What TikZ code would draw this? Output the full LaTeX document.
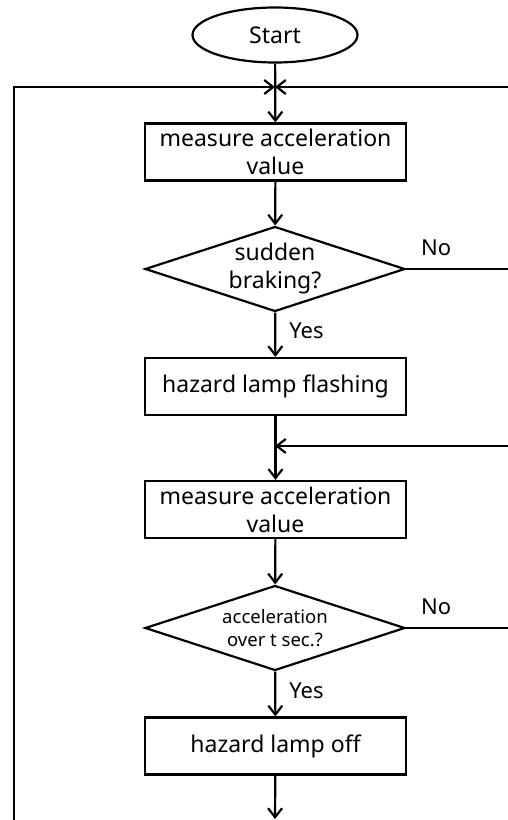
\documentclass[tikz,border=0pt]{standalone}
\usepackage{fontspec}
\setmainfont{Noto Sans}
\usetikzlibrary{shapes.geometric,arrows.meta}
\begin{document}
\begin{tikzpicture}[x=1pt,y=-1pt,
  line width=2.2pt,
  every node/.style={font=\fontsize{23}{28}\selectfont, inner sep=0pt},
  procbox/.style={draw, rectangle, minimum width=261pt, minimum height=57pt, align=center},
  decbox/.style={draw, diamond, minimum width=260pt, minimum height=85pt},
  dectext/.style={align=center},
  termbox/.style={draw, ellipse, minimum width=165pt, minimum height=55pt},
  lbl/.style={font=\fontsize{22}{26}\selectfont},
  arr/.style={-{Straight Barb[length=9pt,width=14pt]}, line cap=butt}
]
\useasboundingbox (0,0) rectangle (508,820);

\node[termbox] (start) at (275,35) {Start};
\node[procbox] (m1) at (275.5,152) {measure acceleration\\value};
\node[decbox] (d1) at (275,269) {};
\node[dectext] (d1t) at (d1.center) {sudden\\braking?};
\node[procbox] (h1) at (275.5,386.5) {hazard lamp flashing};
\node[procbox] (m2) at (275.5,509.5) {measure acceleration\\value};
\node[decbox] (d2) at (275,628) {};
\node[dectext, font=\fontsize{18.5}{23}\selectfont] (d2t) at (d2.center) {acceleration\\over t sec.?};
\node[procbox] (h2) at (275.5,746) {hazard lamp off};

\coordinate (L0) at (14,820);
\coordinate (J1) at (275,87);
\coordinate (R1) at (508,87);
\coordinate (N1) at (508,269);
\coordinate (J2) at (275,446);
\coordinate (R2) at (508,446);
\coordinate (N2) at (508,628);
\coordinate (E) at (275,819);

\draw[arr] (L0) |- (J1);
\draw[arr] (R1) -- (J1);
\draw[arr] (start) -- (m1);
\draw[arr] (m1) -- (d1);
\draw[arr] (d1) -- node[lbl, pos=0, anchor=north west, xshift=13pt, yshift=-9pt] {Yes} (h1);
\draw (d1.east) -- node[lbl, pos=0, anchor=south west, xshift=14pt, yshift=12pt] {No} (N1);
\draw[arr] (h1) -- (m2);
\draw[arr] (R2) -- (J2);
\draw[arr] (m2) -- (d2);
\draw[arr] (d2) -- node[lbl, pos=0, anchor=north west, xshift=13pt, yshift=-10pt] {Yes} (h2);
\draw (d2.east) -- node[lbl, pos=0, anchor=south west, xshift=14pt, yshift=12pt] {No} (N2);
\draw[arr] (h2) -- (E);
\end{tikzpicture}
\end{document}
